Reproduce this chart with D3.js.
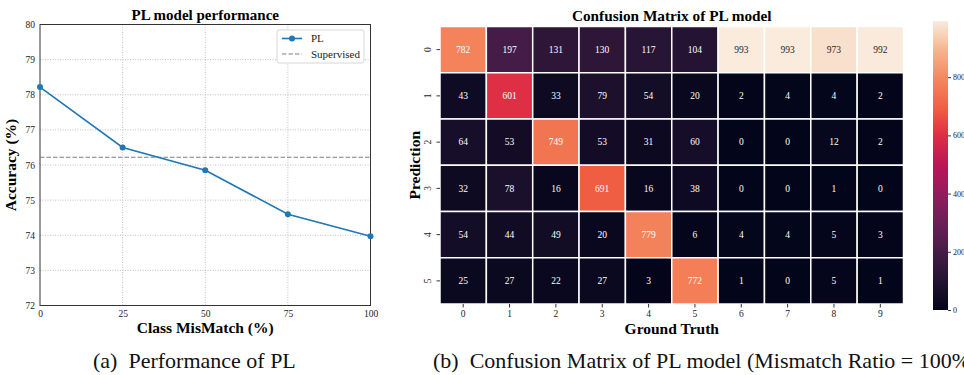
<!DOCTYPE html>
<html><head><meta charset="utf-8">
<script src="https://cdn.jsdelivr.net/npm/d3@7"></script>
<style>
body{margin:0;background:#fff;}
svg{display:block;font-family:"Liberation Serif","Times New Roman",serif;}
svg text{font-family:"Liberation Serif","Times New Roman",serif;}
</style></head>
<body>
<svg id="c" width="964" height="375"></svg>
<script>
// ---------- data ----------
const mismatch = [0, 25, 50, 75, 100];
const plAccuracy = [78.22, 76.5, 75.85, 74.6, 73.97];
const supervisedAccuracy = 76.22;
const accTicks = [72, 73, 74, 75, 76, 77, 78, 79, 80];

const gtClasses = ["0","1","2","3","4","5","6","7","8","9"];
const predClasses = ["0","1","2","3","4","5"];
const row0 = [782,197,131,130,117,104,993,993,973,992];
const row1 = [43,601,33,79,54,20,2,4,4,2];
const row2 = [64,53,749,53,31,60,0,0,12,2];
const row3 = [32,78,16,691,16,38,0,0,1,0];
const row4 = [54,44,49,20,779,6,4,4,5,3];
const row5 = [25,27,22,27,3,772,1,0,5,1];
const matrix = [row0,row1,row2,row3,row4,row5];
const cbTicks = [0,200,400,600,800];

const svg = d3.select("#c");
const FONT = "Liberation Serif";

// ---------- left: line chart ----------
const L = {l:40, r:370.5, t:24.5, b:305.5};
const x = d3.scaleLinear().domain([0,100]).range([L.l, L.r]);
const y = d3.scaleLinear().domain([72,80]).range([L.b, L.t]);

const g1 = svg.append("g");
g1.selectAll(".gx").data(mismatch.slice(1,-1)).join("line")
  .attr("x1",d=>x(d)).attr("x2",d=>x(d)).attr("y1",L.t).attr("y2",L.b)
  .attr("stroke","#b0b0b0").attr("stroke-width",0.8).attr("stroke-dasharray","1,1.5");
g1.selectAll(".gy").data(accTicks.slice(1,-1)).join("line")
  .attr("x1",L.l).attr("x2",L.r).attr("y1",d=>y(d)).attr("y2",d=>y(d))
  .attr("stroke","#b0b0b0").attr("stroke-width",0.8).attr("stroke-dasharray","1,1.5");

const ax = g1.append("g").attr("transform",`translate(0,${L.b})`)
  .call(d3.axisBottom(x).tickValues(mismatch).tickSize(0).tickPadding(5));
const ay = g1.append("g").attr("transform",`translate(${L.l},0)`)
  .call(d3.axisLeft(y).tickValues(accTicks).tickSize(0).tickPadding(5));
[ax,ay].forEach(a=>{a.select(".domain").remove();a.attr("font-family",FONT);
  a.selectAll("text").attr("font-size",9.5).attr("fill","#222");});
g1.append("rect").attr("x",L.l).attr("y",L.t).attr("width",L.r-L.l).attr("height",L.b-L.t)
  .attr("fill","none").attr("stroke","#333").attr("stroke-width",1);

g1.append("line").attr("x1",L.l).attr("x2",L.r)
  .attr("y1",y(supervisedAccuracy)).attr("y2",y(supervisedAccuracy))
  .attr("stroke","#808080").attr("stroke-width",1.2).attr("stroke-dasharray","4.5,2");

const pts = mismatch.map((m,i)=>[m,plAccuracy[i]]);
g1.append("path").datum(pts)
  .attr("d",d3.line().x(d=>x(d[0])).y(d=>y(d[1])))
  .attr("fill","none").attr("stroke","#1f77b4").attr("stroke-width",1.6);
g1.selectAll(".pt").data(pts).join("circle")
  .attr("cx",d=>x(d[0])).attr("cy",d=>y(d[1])).attr("r",3).attr("fill","#1f77b4");

const lg = g1.append("g");
lg.append("rect").attr("x",277).attr("y",30).attr("width",87).attr("height",33).attr("rx",2)
  .attr("fill","#fff").attr("stroke","#ccc").attr("stroke-width",0.8);
lg.append("line").attr("x1",282).attr("x2",302).attr("y1",38.5).attr("y2",38.5)
  .attr("stroke","#1f77b4").attr("stroke-width",1.6);
lg.append("circle").attr("cx",292).attr("cy",38.5).attr("r",3).attr("fill","#1f77b4");
lg.append("line").attr("x1",282).attr("x2",302).attr("y1",54).attr("y2",54)
  .attr("stroke","#808080").attr("stroke-width",1.2).attr("stroke-dasharray","4.5,2");
lg.append("text").attr("x",311).attr("y",42).attr("font-size",11).attr("fill","#222").text("PL");
lg.append("text").attr("x",311).attr("y",57.5).attr("font-size",11).attr("fill","#222").text("Supervised");

g1.append("text").attr("x",(L.l+L.r)/2).attr("y",20).attr("text-anchor","middle")
  .attr("font-size",15).attr("font-weight","bold").text("PL model performance");
g1.append("text").attr("x",(L.l+L.r)/2).attr("y",333).attr("text-anchor","middle")
  .attr("font-size",15.5).attr("font-weight","bold").text("Class MisMatch (%)");
g1.append("text").attr("transform",`translate(16,${(L.t+L.b)/2}) rotate(-90)`).attr("text-anchor","middle")
  .attr("font-size",15.5).attr("font-weight","bold").text("Accuracy (%)");

// ---------- right: heatmap ----------
const H = {l:440, r:903.5, t:26.5, b:304};
const vmax = d3.max(matrix.flat());
const rocketStops = ["#03051a","#221331","#451c47","#6a1f56","#921c5b","#b91657","#dd2c45","#f06043","#f4875e","#f6b48e","#faebdd"];
const rocket = d3.scaleLinear().domain(d3.range(rocketStops.length).map(i=>i/(rocketStops.length-1)))
  .range(rocketStops).interpolate(d3.interpolateRgb);
const color = v => rocket(v/vmax);

const hx = d3.scaleBand().domain(gtClasses).range([H.l,H.r]);
const hy = d3.scaleBand().domain(predClasses).range([H.t,H.b]);
const g2 = svg.append("g");
const cells = [];
matrix.forEach((row,r)=>row.forEach((v,c)=>cells.push({r:predClasses[r],c:gtClasses[c],v})));
g2.selectAll(".cell").data(cells).join("rect")
  .attr("x",d=>hx(d.c)).attr("y",d=>hy(d.r)).attr("width",hx.bandwidth()).attr("height",hy.bandwidth())
  .attr("fill",d=>color(d.v)).attr("stroke","#fff").attr("stroke-width",1.5);
function lum(col){const c=d3.rgb(col);const f=u=>{u/=255;return u<=0.03928?u/12.92:Math.pow((u+0.055)/1.055,2.4);};
  return 0.2126*f(c.r)+0.7152*f(c.g)+0.0722*f(c.b);}
g2.selectAll(".lab").data(cells).join("text")
  .attr("x",d=>hx(d.c)+hx.bandwidth()/2).attr("y",d=>hy(d.r)+hy.bandwidth()/2+3.3)
  .attr("text-anchor","middle").attr("font-size",9.5)
  .attr("fill",d=>lum(color(d.v))>0.408?"#262626":"#ffffff").text(d=>d.v);

const hax = g2.append("g").attr("transform",`translate(0,${H.b})`)
  .call(d3.axisBottom(hx).tickSize(3.5).tickPadding(2.5));
const hay = g2.append("g").attr("transform",`translate(${H.l},0)`)
  .call(d3.axisLeft(hy).tickSize(3.5).tickPadding(4));
[hax,hay].forEach(a=>{a.select(".domain").remove();a.attr("font-family",FONT);
  a.selectAll("line").attr("stroke","#333");
  a.selectAll("text").attr("font-size",9.5).attr("fill","#222");});
hay.selectAll("text").attr("transform","rotate(-90)")
  .attr("text-anchor","middle").attr("x",0).attr("dy",0).attr("y",-9.5);

g2.append("text").attr("x",(H.l+H.r)/2).attr("y",21).attr("text-anchor","middle")
  .attr("font-size",15.3).attr("font-weight","bold").text("Confusion Matrix of PL model");
g2.append("text").attr("x",(H.l+H.r)/2).attr("y",333.5).attr("text-anchor","middle")
  .attr("font-size",15.5).attr("font-weight","bold").text("Ground Truth");
g2.append("text").attr("transform",`translate(420,${(H.t+H.b)/2}) rotate(-90)`).attr("text-anchor","middle")
  .attr("font-size",15.5).attr("font-weight","bold").text("Prediction");

// colorbar
const CB = {x:933, w:15, t:21, b:310};
const cy = d3.scaleLinear().domain([0,vmax]).range([CB.b,CB.t]);
const defs = svg.append("defs");
const grad = defs.append("linearGradient").attr("id","cbg").attr("x1",0).attr("x2",0).attr("y1",1).attr("y2",0);
d3.range(0,1.0001,0.05).forEach(t=>grad.append("stop").attr("offset",t).attr("stop-color",rocket(t)));
g2.append("rect").attr("x",CB.x).attr("y",CB.t).attr("width",CB.w).attr("height",CB.b-CB.t).attr("fill","url(#cbg)");
const cax = g2.append("g").attr("transform",`translate(${CB.x+CB.w},0)`)
  .call(d3.axisRight(cy).tickValues(cbTicks).tickSize(3).tickPadding(2));
cax.select(".domain").remove();cax.attr("font-family",FONT);
cax.selectAll("line").attr("stroke","#333");
cax.selectAll("text").attr("font-size",8).attr("fill","#222");

// captions
svg.append("text").attr("x",93).attr("y",368)
  .attr("font-size",22).attr("fill","#111").text("(a)\u00a0 Performance of PL");
svg.append("text").attr("x",433).attr("y",368)
  .attr("font-size",22).attr("fill","#111").text("(b)\u00a0 Confusion Matrix of PL model (Mismatch Ratio = 100%)");
</script>
</body></html>
